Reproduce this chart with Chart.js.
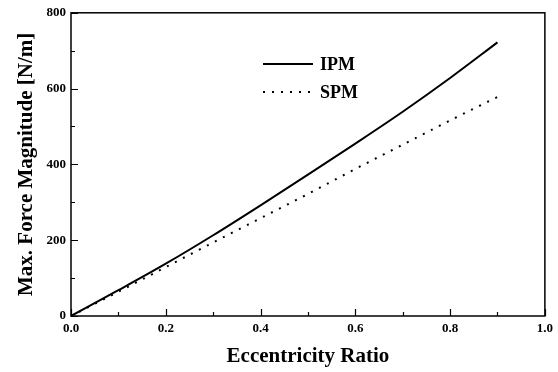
<!DOCTYPE html>
<html>
<head>
<meta charset="utf-8">
<script src="https://cdn.jsdelivr.net/npm/chart.js"></script>
<style>
  html, body { margin: 0; padding: 0; background: #fff; }
  #wrap { width: 558px; height: 372px; }
</style>
</head>
<body>
<div id="wrap"><canvas id="chart" width="558" height="372"></canvas></div>
<script>
// data
const ratio = [0, 0.1, 0.2, 0.3, 0.4, 0.5, 0.6, 0.7, 0.8, 0.9];
const ipm = [0, 68, 138, 213, 292, 373, 455, 539, 628, 722];
const spm = [0, 64, 129, 194, 258, 322, 388, 452, 516, 578];
const seriesNames = ['IPM', 'SPM'];
const xTicks = [0, 0.2, 0.4, 0.6, 0.8, 1.0];
const yTicks = [0, 200, 400, 600, 800];

const FONT = "'Liberation Serif', 'Times New Roman', serif";

function pts(ys) {
    return ratio.map((x, i) => ({ x: x, y: ys[i] }));
}

// box + inward ticks + in-plot legend
const framePlugin = {
    id: 'frame',
    afterDraw(chart) {
        const { ctx, chartArea: a, scales } = chart;
        const xs = scales.x, ys = scales.y;
        ctx.save();
        ctx.strokeStyle = '#000';
        ctx.lineWidth = 1.5;
        ctx.strokeRect(a.left, a.top, a.right - a.left, a.bottom - a.top);

        ctx.lineWidth = 1.2;
        ctx.beginPath();
        for (let v = 0; v <= 1.0001; v += 0.1) {
            const px = Math.round(xs.getPixelForValue(v)) + 0.5;
            const major = Math.round(v * 10) % 2 === 0;
            ctx.moveTo(px, a.bottom);
            ctx.lineTo(px, a.bottom - (major ? 7 : 4));
        }
        for (let v = 0; v <= 800; v += 100) {
            const py = Math.round(ys.getPixelForValue(v)) + 0.5;
            const major = v % 200 === 0;
            ctx.moveTo(a.left, py);
            ctx.lineTo(a.left + (major ? 7 : 4), py);
        }
        ctx.stroke();

        // legend
        const lx0 = 263, lx1 = 313;
        const rows = [64, 92];
        ctx.font = 'bold 18px ' + FONT;
        ctx.fillStyle = '#000';
        ctx.textBaseline = 'middle';
        chart.data.datasets.forEach((ds, i) => {
            ctx.beginPath();
            ctx.lineWidth = ds.borderWidth;
            ctx.setLineDash(ds.borderDash || []);
            ctx.moveTo(lx0, rows[i]);
            ctx.lineTo(lx1, rows[i]);
            ctx.stroke();
            ctx.setLineDash([]);
            ctx.fillText(ds.label, 320, rows[i] + 1);
        });
        ctx.restore();
    }
};

new Chart(document.getElementById('chart'), {
    type: 'line',
    data: {
        datasets: [
            {
                label: seriesNames[0],
                data: pts(ipm),
                borderColor: '#000',
                borderWidth: 2,
                pointRadius: 0,
                cubicInterpolationMode: 'monotone',
                fill: false
            },
            {
                label: seriesNames[1],
                data: pts(spm),
                borderColor: '#000',
                borderWidth: 2,
                borderDash: [2, 7],
                pointRadius: 0,
                cubicInterpolationMode: 'monotone',
                fill: false
            }
        ]
    },
    options: {
        responsive: false,
        animation: false,
        layout: { padding: { top: 10, right: 12, left: 14, bottom: 0 } },
        plugins: { legend: { display: false }, tooltip: { enabled: false } },
        scales: {
            x: {
                type: 'linear',
                min: 0, max: 1,
                afterBuildTicks: (s) => { s.ticks = xTicks.map(v => ({ value: v })); },
                afterFit: (s) => { s.height = 56; },
                grid: { display: false, drawTicks: false },
                border: { display: false },
                ticks: {
                    color: '#000',
                    padding: 5,
                    font: { family: FONT, size: 13, weight: 'bold' },
                    callback: (v) => v.toFixed(1)
                },
                title: {
                    display: true,
                    text: 'Eccentricity Ratio',
                    color: '#000',
                    padding: { top: 0, bottom: 3 },
                    font: { family: FONT, size: 21, weight: 'bold' }
                }
            },
            y: {
                min: 0, max: 800,
                afterBuildTicks: (s) => { s.ticks = yTicks.map(v => ({ value: v })); },
                afterFit: (s) => { s.width = 57; },
                grid: { display: false, drawTicks: false },
                border: { display: false },
                ticks: {
                    color: '#000',
                    padding: 5,
                    font: { family: FONT, size: 13, weight: 'bold' }
                },
                title: {
                    display: true,
                    text: 'Max. Force Magnitude [N/m]',
                    color: '#000',
                    padding: { top: 0, bottom: 0 },
                    font: { family: FONT, size: 21, weight: 'bold' }
                }
            }
        }
    },
    plugins: [framePlugin]
});
</script>
</body>
</html>
